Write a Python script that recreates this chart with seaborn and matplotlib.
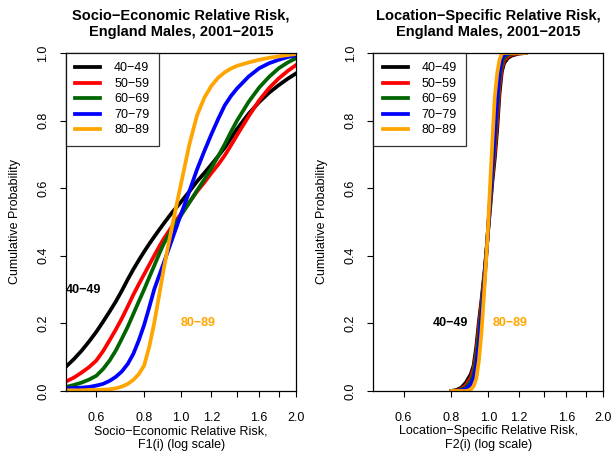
import matplotlib
matplotlib.use("Agg")
import matplotlib.pyplot as plt
import seaborn as sns
import pandas as pd
from matplotlib.lines import Line2D
from matplotlib.ticker import FixedLocator, FixedFormatter, NullLocator

plt.rcParams['font.family'] = ['Liberation Sans', 'DejaVu Sans']

age_groups = ["40−49", "50−59", "60−69", "70−79", "80−89"]
colors = ["#000000", "#FF0000", "#006400", "#0000FF", "#FFA500"]

# Panel 1: Socio-economic relative risk F1(i), cumulative probability
x_se = [0.5, 0.525, 0.55, 0.575, 0.6, 0.625, 0.65, 0.675, 0.7, 0.725, 0.75, 0.775, 0.8, 0.825,
        0.85, 0.875, 0.9, 0.925, 0.95, 0.975, 1.0, 1.05, 1.1, 1.15, 1.2, 1.25, 1.3, 1.35, 1.4,
        1.5, 1.6, 1.7, 1.8, 1.9, 2.0]
p_se_40 = [0.072, 0.095, 0.12, 0.147, 0.175, 0.205, 0.235, 0.265, 0.297, 0.33, 0.36, 0.387, 0.412, 0.435,
           0.456, 0.476, 0.495, 0.513, 0.53, 0.545, 0.56, 0.59, 0.62, 0.645, 0.67, 0.695, 0.72, 0.748, 0.775,
           0.82, 0.855, 0.883, 0.905, 0.924, 0.94]
p_se_50 = [0.028, 0.04, 0.055, 0.071, 0.09, 0.118, 0.15, 0.182, 0.215, 0.25, 0.285, 0.316, 0.345, 0.373,
           0.40, 0.426, 0.45, 0.47, 0.49, 0.508, 0.525, 0.558, 0.59, 0.617, 0.645, 0.67, 0.697, 0.727, 0.757,
           0.812, 0.86, 0.897, 0.925, 0.947, 0.965]
p_se_60 = [0.012, 0.018, 0.025, 0.034, 0.045, 0.065, 0.09, 0.12, 0.155, 0.19, 0.228, 0.265, 0.30, 0.336,
           0.37, 0.404, 0.435, 0.46, 0.482, 0.502, 0.52, 0.557, 0.593, 0.626, 0.66, 0.695, 0.73, 0.767, 0.80,
           0.855, 0.898, 0.93, 0.955, 0.972, 0.985]
p_se_70 = [0.008, 0.009, 0.01, 0.012, 0.016, 0.021, 0.03, 0.042, 0.058, 0.08, 0.11, 0.15, 0.195, 0.247,
           0.30, 0.34, 0.378, 0.416, 0.453, 0.489, 0.524, 0.59, 0.655, 0.71, 0.76, 0.805, 0.845, 0.873, 0.895,
           0.93, 0.955, 0.97, 0.98, 0.988, 0.993]
p_se_80 = [0.002, 0.002, 0.002, 0.003, 0.003, 0.004, 0.005, 0.008, 0.013, 0.021, 0.033, 0.05, 0.075, 0.13,
           0.20, 0.28, 0.36, 0.43, 0.495, 0.556, 0.615, 0.728, 0.815, 0.868, 0.903, 0.927, 0.943, 0.954, 0.962,
           0.972, 0.98, 0.986, 0.99, 0.994, 0.997]

# Panel 2: Location-specific relative risk F2(i)
x_ls = [0.8, 0.825, 0.85, 0.875, 0.9, 0.915, 0.93, 0.945, 0.96, 0.975, 0.99, 1.0, 1.01, 1.025, 1.04,
        1.055, 1.07, 1.085, 1.1, 1.125, 1.15, 1.2, 1.25]
p_ls_40 = [0.0, 0.003, 0.01, 0.026, 0.05, 0.075, 0.13, 0.205, 0.27, 0.34, 0.42, 0.48, 0.535, 0.62, 0.69,
           0.775, 0.88, 0.945, 0.97, 0.985, 0.992, 0.998, 1.0]
p_ls_50 = [0.0, 0.001, 0.006, 0.018, 0.04, 0.065, 0.115, 0.19, 0.26, 0.335, 0.42, 0.485, 0.545, 0.635, 0.71,
           0.80, 0.90, 0.955, 0.977, 0.99, 0.995, 0.999, 1.0]
p_ls_60 = [0.0, 0.0, 0.004, 0.012, 0.03, 0.052, 0.10, 0.17, 0.245, 0.325, 0.42, 0.49, 0.555, 0.65, 0.74,
           0.835, 0.925, 0.968, 0.985, 0.995, 0.998, 1.0, 1.0]
p_ls_70 = [0.0, 0.0, 0.002, 0.007, 0.02, 0.038, 0.075, 0.14, 0.225, 0.31, 0.415, 0.49, 0.565, 0.67, 0.77,
           0.865, 0.945, 0.982, 0.993, 0.998, 1.0, 1.0, 1.0]
p_ls_80 = [0.0, 0.0, 0.0, 0.0, 0.004, 0.014, 0.036, 0.09, 0.175, 0.29, 0.41, 0.50, 0.60, 0.74, 0.87,
           0.94, 0.98, 0.998, 1.0, 1.0, 1.0, 1.0, 1.0]

x_ticks = [0.6, 0.8, 1.0, 1.2, 1.4, 1.6, 1.8, 2.0]
x_tick_labels = ["0.6", "0.8", "1.0", "1.2", "", "1.6", "", "2.0"]
y_ticks = [0.0, 0.2, 0.4, 0.6, 0.8, 1.0]
y_tick_labels = ["0.0", "0.2", "0.4", "0.6", "0.8", "1.0"]


def long_frame(x, series):
    rows = []
    for grp, ps in zip(age_groups, series):
        for xv, pv in zip(x, ps):
            rows.append({"x": xv, "p": pv, "age": grp})
    return pd.DataFrame(rows)


df_se = long_frame(x_se, [p_se_40, p_se_50, p_se_60, p_se_70, p_se_80])
df_ls = long_frame(x_ls, [p_ls_40, p_ls_50, p_ls_60, p_ls_70, p_ls_80])

fig = plt.figure(figsize=(6.13, 4.51), dpi=100)
W, H = 613, 451
ax1 = fig.add_axes([66 / W, (H - 391) / H, 230.3 / W, 338 / H])
ax2 = fig.add_axes([373.3 / W, (H - 391) / H, 230 / W, 338 / H])

panels = [
    (ax1, df_se, "Socio−Economic Relative Risk,\nEngland Males, 2001−2015",
     "Socio−Economic Relative Risk,\nF1(i) (log scale)", (0.557, 0.30), (1.105, 0.20)),
    (ax2, df_ls, "Location−Specific Relative Risk,\nEngland Males, 2001−2015",
     "Location−Specific Relative Risk,\nF2(i) (log scale)", (0.797, 0.20), (1.143, 0.20)),
]

for ax, df, title, xlabel, pos40, pos80 in panels:
    ax.set_xscale("log")
    sns.lineplot(data=df, x="x", y="p", hue="age", palette=colors, hue_order=age_groups,
                 estimator=None, sort=False, linewidth=2.7, ax=ax, legend=False)
    ax.set_xlim(0.5, 2.0)
    ax.set_ylim(0, 1)
    ax.xaxis.set_major_locator(FixedLocator(x_ticks))
    ax.xaxis.set_major_formatter(FixedFormatter(x_tick_labels))
    ax.xaxis.set_minor_locator(NullLocator())
    ax.set_yticks(y_ticks)
    ax.set_yticklabels(y_tick_labels, rotation=90, va="center")
    ax.tick_params(axis="both", length=4, width=0.8, labelsize=9, colors="black", pad=8)
    ax.tick_params(axis="x", pad=11)
    for s in ax.spines.values():
        s.set_linewidth(0.9)
        s.set_color("black")
    ax.set_title(title, fontsize=10.5, fontweight="bold", pad=12, linespacing=1.25)
    ax.set_xlabel(xlabel, fontsize=9, labelpad=1, linespacing=1.15)
    ax.set_ylabel("Cumulative Probability", fontsize=9, labelpad=12)
    handles = [Line2D([0], [0], color=c, lw=2.7) for c in colors]
    leg = ax.legend(handles, age_groups, loc="upper left", fontsize=9, frameon=True,
                    fancybox=False, borderaxespad=0, handlelength=2.0, handletextpad=1.1,
                    labelspacing=0.28, borderpad=0.75)
    leg.get_frame().set_edgecolor("black")
    leg.get_frame().set_linewidth(0.9)
    ax.text(pos40[0], pos40[1], "40−49", ha="center", va="center", fontsize=9,
            fontweight="bold", color="black")
    ax.text(pos80[0], pos80[1], "80−89", ha="center", va="center", fontsize=9,
            fontweight="bold", color="#FFA500")

fig.savefig("out.png", dpi=100)
